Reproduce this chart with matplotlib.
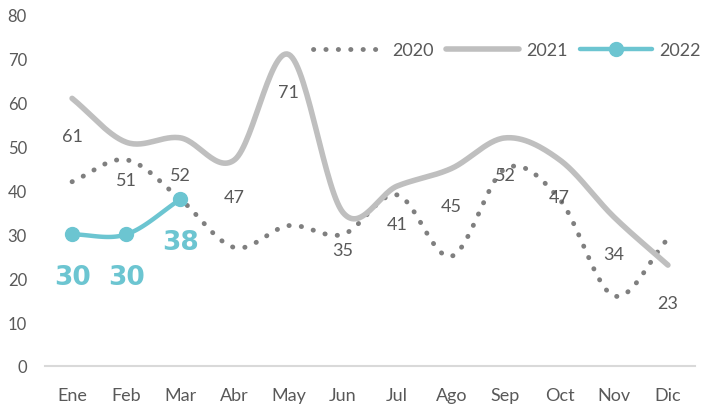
import matplotlib
matplotlib.use("Agg")
import matplotlib.pyplot as plt
import numpy as np
from matplotlib.lines import Line2D

months = ["Ene", "Feb", "Mar", "Abr", "May", "Jun", "Jul", "Ago", "Sep", "Oct", "Nov", "Dic"]
s2020 = [42, 47, 38, 27, 32, 30, 39, 25, 45, 38, 16, 29]
s2021 = [61, 51, 52, 47, 71, 35, 41, 45, 52, 47, 34, 23]
s2022 = [30, 30, 38]

plt.rcParams['font.family'] = ['Lato', 'DejaVu Sans']

def smooth(xs, ys, n=30):
    xs = np.asarray(xs, float); ys = np.asarray(ys, float)
    px = np.concatenate([[2*xs[0]-xs[1]], xs, [2*xs[-1]-xs[-2]]])
    py = np.concatenate([[2*ys[0]-ys[1]], ys, [2*ys[-1]-ys[-2]]])
    ox, oy = [], []
    for i in range(1, len(px)-2):
        t = np.linspace(0, 1, n, endpoint=(i == len(px)-3))
        for p, o in ((px, ox), (py, oy)):
            p0, p1, p2, p3 = p[i-1], p[i], p[i+1], p[i+2]
            o.extend(0.5*((2*p1) + (-p0+p2)*t + (2*p0-5*p1+4*p2-p3)*t**2 + (-p0+3*p1-3*p2+p3)*t**3))
    return np.array(ox), np.array(oy)

fig = plt.figure(figsize=(7.01, 4.06), dpi=100)
ax = fig.add_axes([45/701, 39/406, 650/701, 351/406])

grey_txt = "#595959"
teal = "#6CC5D1"
dot_style = (0, (0.05, 2.5))

x = np.arange(len(months))
# 2020 dotted
sx, sy = smooth(x, s2020)
ax.plot(sx, sy, color="#7F7F7F", lw=3.5, linestyle=dot_style, dash_capstyle='round', zorder=2)
# 2021 solid
sx, sy = smooth(x, s2021)
ax.plot(sx, sy, color="#BFBFBF", lw=4.0, solid_capstyle='round', zorder=3)
# 2022
x22 = np.arange(len(s2022))
sx, sy = smooth(x22, s2022)
ax.plot(sx, sy, color=teal, lw=3.2, solid_capstyle='round', zorder=4)
ax.plot(x22, s2022, 'o', color=teal, ms=10, zorder=5)

for xi, v in zip(x, s2021):
    ax.annotate(str(v), (xi, v), xytext=(0, -27), textcoords='offset points',
                ha='center', va='center', fontsize=13, color=grey_txt, zorder=6)
for xi, v in zip(x22, s2022):
    ax.annotate(str(v), (xi, v), xytext=(0, -31), textcoords='offset points',
                ha='center', va='center', fontsize=19, fontweight='bold',
                family='DejaVu Sans', color=teal, zorder=6)

ax.set_xlim(-0.5, len(months)-0.5)
ax.set_ylim(0, 80)
ax.set_yticks(range(0, 81, 10))
ax.set_xticks(x)
ax.set_xticklabels(months)
for s in ['top', 'right', 'left']:
    ax.spines[s].set_visible(False)
ax.spines['bottom'].set_color('#D9D9D9')
ax.spines['bottom'].set_linewidth(1.5)
ax.tick_params(axis='y', length=0, labelsize=12, labelcolor=grey_txt, pad=13)
ax.tick_params(axis='x', length=0, labelsize=13, labelcolor=grey_txt, pad=15)

handles = [
    Line2D([], [], color="#7F7F7F", lw=3.5, linestyle=dot_style, dash_capstyle='round'),
    Line2D([], [], color="#BFBFBF", lw=4.0, solid_capstyle='round'),
    Line2D([], [], color=teal, lw=3.2, marker='o', ms=10, solid_capstyle='round'),
]
leg = fig.legend(handles, ["2020", "2021", "2022"], loc='center right',
                 bbox_to_anchor=(701/701, 1-51/406), borderaxespad=0, borderpad=0,
                 ncol=3, frameon=False, fontsize=13, handlelength=4.0, columnspacing=0.7,
                 handletextpad=0.4, labelcolor=grey_txt)

fig.savefig("out.png", dpi=100)
